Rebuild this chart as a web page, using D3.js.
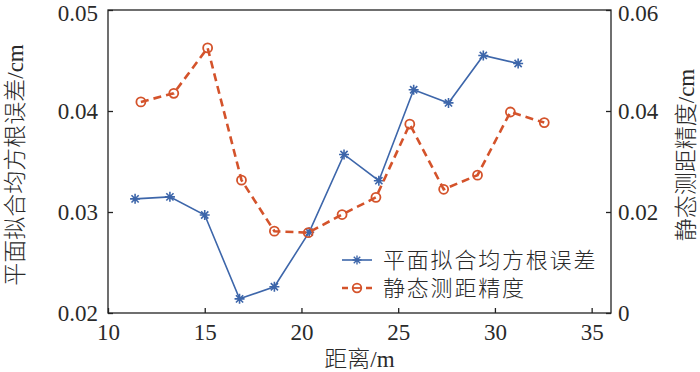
<!DOCTYPE html>
<html>
<head>
<meta charset="utf-8">
<script src="https://cdn.jsdelivr.net/npm/d3@7"></script>
<style>
  body { margin: 0; background: #fff; }
  text { font-family: "Liberation Serif", "Noto Sans CJK SC", serif; fill: #2a2a2a; font-weight: 300; }
</style>
</head>
<body>
<svg width="700" height="372"></svg>
<script>
// data
const rmseDist = [11.4, 13.2, 15.0, 16.8, 18.6, 20.4, 22.2, 24.0, 25.8, 27.6, 29.4, 31.2];
const rmseVals = [0.0313, 0.0315, 0.0297, 0.0214, 0.0226, 0.0280, 0.0357, 0.0331, 0.0421, 0.0408, 0.0455, 0.0447];
const staticDist = [11.7, 13.4, 15.15, 16.9, 18.6, 20.35, 22.1, 23.85, 25.6, 27.35, 29.1, 30.8, 32.55];
const staticVals = [0.0418, 0.0435, 0.0525, 0.0263, 0.0162, 0.0159, 0.0195, 0.0229, 0.0374, 0.0245, 0.0273, 0.0398, 0.0377];
const xTicks = [10, 15, 20, 25, 30, 35];
const yLeftTicks = [0.02, 0.03, 0.04, 0.05];
const yRightTicks = [0, 0.02, 0.04, 0.06];
const names = ["平面拟合均方根误差", "静态测距精度"];

const blue = "#3d66aa", red = "#d4532b";
const svg = d3.select("svg");
const m = { left: 108, right: 611, top: 10, bottom: 313 };

const x = d3.scaleLinear().domain([10, 36]).range([m.left, m.right]);
const yL = d3.scaleLinear().domain([0.02, 0.05]).range([m.bottom, m.top]);
const yR = d3.scaleLinear().domain([0, 0.06]).range([m.bottom, m.top]);

// box
svg.append("rect")
  .attr("x", m.left).attr("y", m.top)
  .attr("width", m.right - m.left).attr("height", m.bottom - m.top)
  .attr("fill", "none").attr("stroke", "#222").attr("stroke-width", 1.3);

const axisStyle = g => {
  g.select(".domain").remove();
  g.selectAll(".tick line").attr("stroke", "#222").attr("stroke-width", 1.3);
  g.selectAll(".tick text").style("font-size", "23px").attr("fill", "#2a2a2a");
};

svg.append("g")
  .attr("transform", `translate(0,${m.bottom})`)
  .call(d3.axisBottom(x).tickValues(xTicks).tickSizeInner(-5).tickPadding(11))
  .call(axisStyle);

svg.append("g")
  .attr("transform", `translate(${m.left},0)`)
  .call(d3.axisLeft(yL).tickValues(yLeftTicks).tickFormat(d3.format(".2f")).tickSizeInner(-5).tickPadding(10))
  .call(axisStyle)
  .selectAll(".tick text").filter(d => d === 0.05).attr("dy", "0.45em");

svg.append("g")
  .attr("transform", `translate(${m.right},0)`)
  .call(d3.axisRight(yR).tickValues(yRightTicks).tickFormat(d => d === 0 ? "0" : d3.format(".2f")(d)).tickSizeInner(-5).tickPadding(7))
  .call(axisStyle)
  .selectAll(".tick text").filter(d => d === 0.06).attr("dy", "0.45em");

// axis titles
svg.append("text")
  .attr("transform", "translate(23,165) rotate(-90)")
  .attr("text-anchor", "middle").style("font-size", "23px")
  .text("平面拟合均方根误差/cm");

svg.append("text")
  .attr("transform", "translate(694,155) rotate(-90)")
  .attr("text-anchor", "middle").style("font-size", "23px")
  .text("静态测距精度/cm");

svg.append("text")
  .attr("x", (m.left + m.right) / 2).attr("y", 367)
  .attr("text-anchor", "middle").style("font-size", "23px")
  .text("距离/m");

const star = r => `M${-r},0H${r}M0,${-r}V${r}M${-r * 0.72},${-r * 0.72}L${r * 0.72},${r * 0.72}M${-r * 0.72},${r * 0.72}L${r * 0.72},${-r * 0.72}`;

// blue series
const blueData = rmseDist.map((d, i) => [d, rmseVals[i]]);
svg.append("path")
  .datum(blueData)
  .attr("fill", "none").attr("stroke", blue).attr("stroke-width", 1.6)
  .attr("d", d3.line().x(d => x(d[0])).y(d => yL(d[1])));
svg.append("g").selectAll("path")
  .data(blueData).enter().append("path")
  .attr("transform", d => `translate(${x(d[0])},${yL(d[1])})`)
  .attr("d", star(5)).attr("stroke", blue).attr("stroke-width", 1.6).attr("fill", "none");

// red series
const redData = staticDist.map((d, i) => [d, staticVals[i]]);
svg.append("g").selectAll("circle")
  .data(redData).enter().append("circle")
  .attr("cx", d => x(d[0])).attr("cy", d => yR(d[1])).attr("r", 4.5)
  .attr("fill", "none").attr("stroke", red).attr("stroke-width", 1.8);
svg.append("path")
  .datum(redData)
  .attr("fill", "none").attr("stroke", red).attr("stroke-width", 2.6)
  .attr("stroke-dasharray", "8,5")
  .attr("d", d3.line().x(d => x(d[0])).y(d => yR(d[1])));

// legend
const lg = svg.append("g");
lg.append("line").attr("x1", 342).attr("x2", 372).attr("y1", 260).attr("y2", 260)
  .attr("stroke", blue).attr("stroke-width", 1.6);
lg.append("path").attr("transform", "translate(357,260)").attr("d", star(4.5))
  .attr("stroke", blue).attr("stroke-width", 1.4);
lg.append("line").attr("x1", 342).attr("x2", 372).attr("y1", 288).attr("y2", 288)
  .attr("stroke", red).attr("stroke-width", 2.4).attr("stroke-dasharray", "6,18");
lg.append("circle").attr("cx", 357).attr("cy", 288).attr("r", 4.3)
  .attr("fill", "none").attr("stroke", red).attr("stroke-width", 1.8);
lg.append("line").attr("x1", 352).attr("x2", 362).attr("y1", 288).attr("y2", 288)
  .attr("stroke", red).attr("stroke-width", 1.8);
lg.selectAll("text").data(names).enter().append("text")
  .attr("x", 383).attr("y", (d, i) => 268 + i * 28)
  .style("font-size", "22px").style("letter-spacing", "1.8px")
  .text(d => d);
</script>
</body>
</html>
